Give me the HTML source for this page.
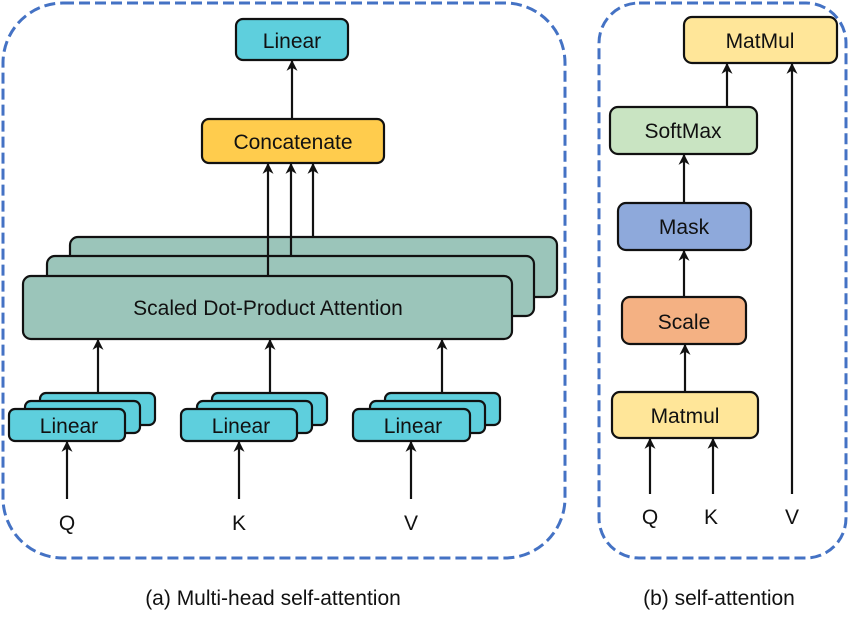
<!DOCTYPE html>
<html><head><meta charset="utf-8"><style>
html,body{margin:0;padding:0;background:#fff;}
svg{display:block;}
text{font-family:"Liberation Sans",Arial,sans-serif;fill:#111;}
</style></head><body>
<svg width="850" height="621" viewBox="0 0 850 621" xmlns="http://www.w3.org/2000/svg">
<defs>
<marker id="ah" viewBox="0 0 10 10" refX="9" refY="5" markerWidth="13" markerHeight="11" orient="auto" markerUnits="userSpaceOnUse">
<path d="M0,0 L10,5 L0,10 L3,5 Z" fill="#111"/>
</marker>
</defs>
<rect x="3" y="3" width="562" height="555" rx="60" fill="none" stroke="#4472C4" stroke-width="3" stroke-dasharray="11,5"/>
<rect x="599" y="3" width="247" height="555" rx="40" fill="none" stroke="#4472C4" stroke-width="3" stroke-dasharray="11,5"/>

<g stroke="#111" stroke-width="2.2">
<rect x="236" y="19" width="112" height="41" rx="7" fill="#5ECFDD"/>
<rect x="202" y="119" width="182" height="44" rx="7" fill="#FFCC4D"/>
<line x1="292" y1="119" x2="292" y2="61" marker-end="url(#ah)"/>
<rect x="70" y="237" width="487" height="60" rx="8" fill="#9BC5BA"/>
<rect x="47" y="256" width="487" height="60" rx="8" fill="#9BC5BA"/>
<rect x="23" y="276" width="489" height="63" rx="8" fill="#9BC5BA"/>
<line x1="268" y1="276" x2="268" y2="164" marker-end="url(#ah)"/>
<line x1="291" y1="256" x2="291" y2="164" marker-end="url(#ah)"/>
<line x1="313" y1="237" x2="313" y2="164" marker-end="url(#ah)"/>
<g fill="#5ECFDD">
<rect x="40" y="393" width="115" height="32" rx="6"/>
<rect x="25" y="401" width="115" height="32" rx="6"/>
<rect x="9" y="409" width="116" height="32" rx="6"/>
<rect x="212" y="393" width="115" height="32" rx="6"/>
<rect x="197" y="401" width="115" height="32" rx="6"/>
<rect x="181" y="409" width="116" height="32" rx="6"/>
<rect x="385" y="393" width="115" height="32" rx="6"/>
<rect x="370" y="401" width="115" height="32" rx="6"/>
<rect x="353" y="409" width="117" height="32" rx="6"/>
</g>
<line x1="98" y1="393" x2="98" y2="340" marker-end="url(#ah)"/>
<line x1="270" y1="393" x2="270" y2="340" marker-end="url(#ah)"/>
<line x1="442" y1="393" x2="442" y2="340" marker-end="url(#ah)"/>
<line x1="67" y1="499" x2="67" y2="442" marker-end="url(#ah)"/>
<line x1="239" y1="499" x2="239" y2="442" marker-end="url(#ah)"/>
<line x1="411" y1="499" x2="411" y2="442" marker-end="url(#ah)"/>

<rect x="684" y="17" width="153" height="46" rx="8" fill="#FFE699"/>
<rect x="610" y="107" width="147" height="47" rx="8" fill="#C9E4C2"/>
<rect x="618" y="203" width="133" height="47" rx="8" fill="#8EA9DB"/>
<rect x="622" y="297" width="124" height="47" rx="8" fill="#F4B183"/>
<rect x="612" y="392" width="146" height="46" rx="8" fill="#FFE699"/>
<line x1="727" y1="107" x2="727" y2="64" marker-end="url(#ah)"/>
<line x1="684" y1="203" x2="684" y2="155" marker-end="url(#ah)"/>
<line x1="684" y1="297" x2="684" y2="251" marker-end="url(#ah)"/>
<line x1="685" y1="392" x2="685" y2="345" marker-end="url(#ah)"/>
<line x1="650" y1="494" x2="650" y2="439" marker-end="url(#ah)"/>
<line x1="713" y1="494" x2="713" y2="439" marker-end="url(#ah)"/>
<line x1="792" y1="494" x2="792" y2="64" marker-end="url(#ah)"/>
</g>

<g font-size="21" text-anchor="middle">
<text x="292" y="48">Linear</text>
<text x="293" y="149">Concatenate</text>
<text x="268" y="315">Scaled Dot-Product Attention</text>
<text x="69" y="433">Linear</text>
<text x="241" y="433">Linear</text>
<text x="413" y="433">Linear</text>
<text x="67" y="530">Q</text>
<text x="239" y="530">K</text>
<text x="411" y="530">V</text>
<text x="760" y="48">MatMul</text>
<text x="683" y="138">SoftMax</text>
<text x="684" y="234">Mask</text>
<text x="684" y="329">Scale</text>
<text x="685" y="423">Matmul</text>
<text x="650" y="524">Q</text>
<text x="711" y="524">K</text>
<text x="792" y="524">V</text>
<text x="273" y="605">(a) Multi-head self-attention</text>
<text x="719" y="605">(b) self-attention</text>
</g>
</svg>
</body></html>
